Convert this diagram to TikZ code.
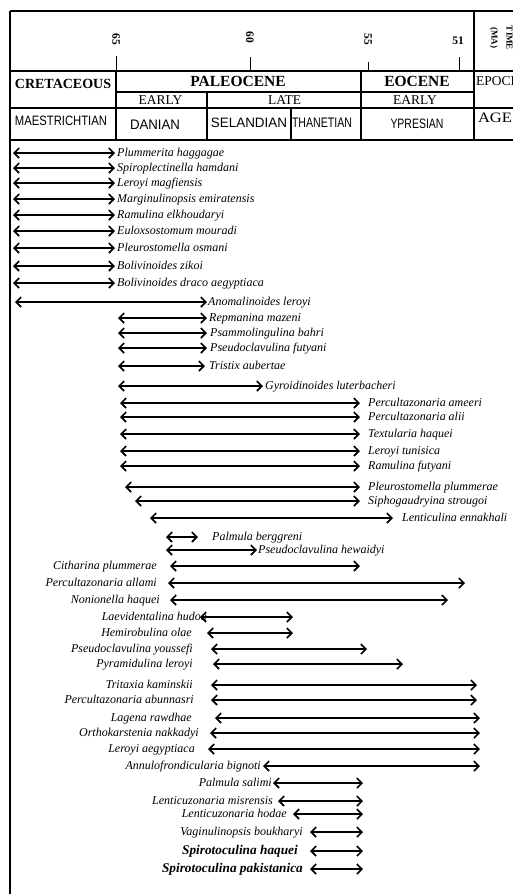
\documentclass[tikz,border=0pt]{standalone}
\usepackage{fontspec}
\setmainfont{Liberation Serif}
\newfontfamily\sansf{Liberation Sans}
\usepackage{graphicx}
\usetikzlibrary{arrows.meta}
\newcommand\bfsp{\fontsize{13.3}{15}\selectfont\bfseries}
\newcommand\fitbox[3]{\resizebox{#1pt}{#2pt}{#3}}
\tikzset{
  rng/.style={line width=1.6pt,<->,>={Straight Barb[length=5pt,width=10pt]}},
  sp/.style={inner sep=0pt,font=\fontsize{12}{14}\selectfont\itshape},
  outer/.style={line width=1.8pt},
  inner/.style={line width=1.1pt},
  tick/.style={line width=1pt},
  num/.style={inner sep=0pt,font=\fontsize{11.5}{13}\selectfont\bfseries},
  big/.style={inner sep=0pt,font=\fontsize{15.5}{17}\selectfont\bfseries},
  mid/.style={inner sep=0pt,font=\fontsize{13.5}{15}\selectfont},
  sanslbl/.style={inner sep=0pt,font=\sansf},
}
\newcommand\rowR[6]{%
  \coordinate (a#1) at (#3,#2);
  \coordinate (b#1) at (#4,#2);
  \draw[rng] (a#1) -- (b#1);
  \node[sp,anchor=base west] (t#1) at (#5,#2+3) {#6};}
\newcommand\rowL[6]{%
  \coordinate (a#1) at (#4,#2);
  \coordinate (b#1) at (#5,#2);
  \draw[rng] (a#1) -- (b#1);
  \node[sp,anchor=base east] (t#1) at (#3,#2+3) {#6};}
\begin{document}
\begin{tikzpicture}[x=1pt,y=-1pt]
\useasboundingbox (0,0) rectangle (513,894);
\fill[white] (0,0) rectangle (513,894);
% ---- table frame
\draw[outer] (10,11) -- (513,11);
\draw[outer] (10,11) -- (10,894);
\draw[inner] (10,71) -- (513,71);
\draw[inner] (116,92) -- (474,92);
\draw[inner] (10,108) -- (513,108);
\draw[outer] (10,140) -- (513,140);
\draw[inner] (116,71) -- (116,140);
\draw[inner] (207,92) -- (207,140);
\draw[inner] (291,108) -- (291,140);
\draw[inner] (361,71) -- (361,140);
\draw[inner] (474,11) -- (474,140);
% ---- time scale
\draw[tick] (116,56) -- (116,71);
\draw[tick] (250,57) -- (250,71);
\draw[tick] (368,62) -- (368,71);
\draw[tick] (459,57) -- (459,71);
\node[num,rotate=-90] (n65) at (116,39) {65};
\node[num,rotate=-90] (n60) at (250,37) {60};
\node[num,rotate=-90] (n55) at (368,39) {55};
\node[num] (n51) at (458,41) {51};
\node[inner sep=0pt,rotate=-90,align=center,font=\fontsize{9}{15}\selectfont\bfseries] (time) at (501,38) {TIME\\(MA)};
% ---- header cells
\node[inner sep=0pt,font=\fontsize{14}{16}\selectfont\bfseries] (cret) at (63,83.5) {CRETACEOUS};
\node[big] (paleo) at (238,81) {PALEOCENE};
\node[big] (eoc) at (417,81) {EOCENE};
\node[mid,anchor=west] (epoch) at (476,81) {EPOCH};
\node[mid] (early1) at (160.5,100) {EARLY};
\node[mid] (late) at (284.5,100) {LATE};
\node[mid] (early2) at (415,100) {EARLY};
\node[sanslbl] (maes) at (61,121) {\fitbox{92}{9.5}{MAESTRICHTIAN}};
\node[sanslbl] (dan) at (155,125) {\fitbox{50}{9.5}{DANIAN}};
\node[sanslbl] (sel) at (249,123) {\fitbox{76}{9.5}{SELANDIAN}};
\node[sanslbl] (than) at (322,123) {\fitbox{60}{9.5}{THANETIAN}};
\node[sanslbl] (ypr) at (417,124) {\fitbox{53}{9.5}{YPRESIAN}};
\node[inner sep=0pt] (age) at (495,118) {\fitbox{34}{9.5}{AGE}};
% ---- ranges, labels to the right
\rowR{1}{153}{13}{115}{117}{Plummerita haggagae}
\rowR{2}{168}{13}{115}{117}{Spiroplectinella hamdani}
\rowR{3}{183}{13}{115}{117}{Leroyi magfiensis}
\rowR{4}{199}{13}{115}{117}{Marginulinopsis emiratensis}
\rowR{5}{215}{13}{115}{117}{Ramulina elkhoudaryi}
\rowR{6}{231}{13}{115}{117}{Euloxsostomum mouradi}
\rowR{7}{248}{13}{115}{117}{Pleurostomella osmani}
\rowR{8}{266}{13}{115}{117}{Bolivinoides zikoi}
\rowR{9}{283}{13}{115}{117}{Bolivinoides draco aegyptiaca}
\rowR{10}{302}{15}{207}{208}{Anomalinoides leroyi}
\rowR{11}{318}{118}{207}{209}{Repmanina mazeni}
\rowR{12}{333}{118}{207}{210}{Psammolingulina bahri}
\rowR{13}{348}{118}{207}{210}{Pseudoclavulina futyani}
\rowR{14}{366}{118}{205}{209}{Tristix aubertae}
\rowR{15}{386}{118}{263}{265}{Gyroidinoides luterbacheri}
\rowR{16}{403}{120}{360}{368}{Percultazonaria ameeri}
\rowR{17}{417}{120}{360}{368}{Percultazonaria alii}
\rowR{18}{434}{120}{360}{368}{Textularia haquei}
\rowR{19}{451}{120}{360}{368}{Leroyi tunisica}
\rowR{20}{466}{120}{360}{368}{Ramulina futyani}
\rowR{21}{487}{125}{360}{368}{Pleurostomella plummerae}
\rowR{22}{501}{135}{360}{368}{Siphogaudryina strougoi}
\rowR{23}{518}{150}{393}{402}{Lenticulina ennakhali}
\rowR{24}{537}{166}{198}{212}{Palmula berggreni}
\rowR{25}{550}{166}{257}{258}{Pseudoclavulina hewaidyi}
% ---- ranges, labels to the left
\rowL{26}{566}{157}{170}{360}{Citharina plummerae}
\rowL{27}{583}{157}{168}{465}{Percultazonaria allami}
\rowL{28}{600}{160}{170}{448}{Nonionella haquei}
\rowL{29}{617}{207}{200}{293}{Laevidentalina hudoa}
\rowL{30}{633}{192}{207}{293}{Hemirobulina olae}
\rowL{31}{649}{193}{211}{367}{Pseudoclavulina youssefi}
\rowL{32}{664}{193}{213}{403}{Pyramidulina leroyi}
\rowL{33}{685}{193}{211}{477}{Tritaxia kaminskii}
\rowL{34}{700}{194}{211}{477}{Percultazonaria abunnasri}
\rowL{35}{718}{192}{215}{480}{Lagena rawdhae}
\rowL{36}{733}{199}{210}{480}{Orthokarstenia nakkadyi}
\rowL{37}{749}{195}{208}{480}{Leroyi aegyptiaca}
\rowL{38}{766}{261}{263}{480}{Annulofrondicularia bignoti}
\rowL{39}{783}{272}{273}{363}{Palmula salimi}
\rowL{40}{801}{273}{278}{363}{Lenticuzonaria misrensis}
\rowL{41}{814}{287}{293}{363}{Lenticuzonaria hodae}
\rowL{42}{832}{303}{310}{363}{Vaginulinopsis boukharyi}
\rowL{43}{851}{298}{310}{363}{\bfsp Spirotoculina haquei}
\rowL{44}{869}{303}{310}{363}{\bfsp Spirotoculina pakistanica}
\end{tikzpicture}
\end{document}
